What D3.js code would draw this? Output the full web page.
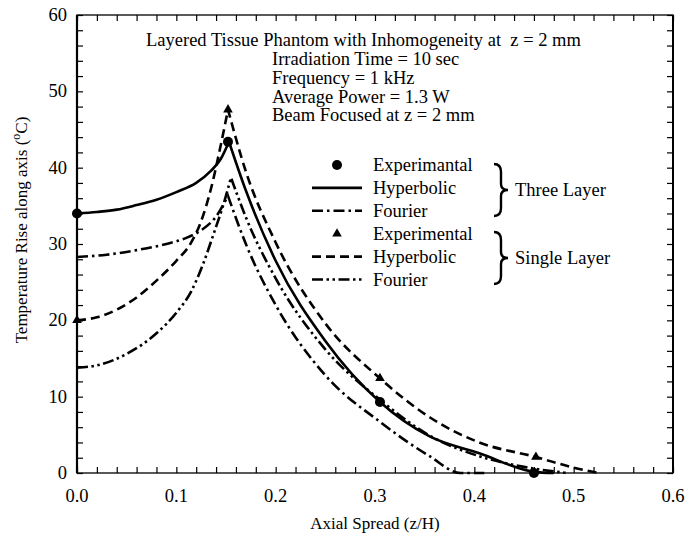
<!DOCTYPE html>
<html>
<head>
<meta charset="utf-8">
<script src="https://cdn.jsdelivr.net/npm/d3@7"></script>
<style>
body { margin: 0; background: #fff; }
svg text { font-family: "Liberation Serif", "Times New Roman", serif; fill: #000; }
</style>
</head>
<body>
<div id="chart"></div>
<script>
// x ticks and y ticks
var xTickLabels = [0, 0.1, 0.2, 0.3, 0.4, 0.5, 0.6];
var yTickLabels = [0, 10, 20, 30, 40, 50, 60];

// three layer
var threeLayerExp = [[0, 34.0], [0.152, 43.4], [0.305, 9.3], [0.46, 0]];
var threeLayerHyp = [[0, 34.0], [0.02, 34.2], [0.04, 34.5], [0.06, 35.1], [0.08, 35.8], [0.10, 36.8], [0.12, 38.0], [0.135, 39.6], [0.145, 41.2], [0.153, 43.4],
	[0.17, 37.0], [0.2, 27.8], [0.25, 17.3], [0.305, 9.3], [0.355, 4.8], [0.405, 2.6], [0.46, 0.15], [0.48, 0]];
var threeLayerFou = [[0, 28.3], [0.03, 28.6], [0.06, 29.2], [0.09, 30.0], [0.11, 30.8], [0.125, 31.8], [0.14, 33.6], [0.152, 36.3],
	[0.17, 30.0], [0.2, 22.0], [0.25, 12.8], [0.305, 6.7], [0.355, 2.2], [0.386, 0], [0.41, 0]];

// single layer
var singleLayerExp = [[0, 20.0], [0.152, 47.6], [0.305, 12.4], [0.462, 2.1]];
var singleLayerHyp = [[0, 20.0], [0.02, 20.4], [0.04, 21.4], [0.06, 23.0], [0.08, 25.2], [0.10, 27.8], [0.115, 30.2], [0.125, 33.0], [0.135, 37.3], [0.144, 42.5], [0.152, 47.6],
	[0.17, 39.5], [0.2, 30.2], [0.25, 19.6], [0.305, 12.4], [0.355, 7.3], [0.405, 4.0], [0.462, 2.1], [0.5, 0.7], [0.525, 0]];
var singleLayerFou = [[0, 13.8], [0.02, 14.1], [0.05, 15.6], [0.08, 18.3], [0.10, 21.0], [0.115, 23.8], [0.127, 27.4], [0.138, 31.5], [0.147, 35.0], [0.155, 38.7],
	[0.17, 33.5], [0.2, 25.5], [0.25, 16.2], [0.305, 9.6], [0.355, 4.9], [0.405, 2.2], [0.45, 0.8], [0.493, 0]];

var infoLines = ["Irradiation Time = 10 sec", "Frequency = 1 kHz", "Average Power = 1.3 W", "Beam Focused at z = 2 mm"];

var W = 687, H = 536;
var pL = 77, pR = 673, pT = 15, pB = 473;
var fs = 18.5;

var svg = d3.select("#chart").append("svg").attr("width", W).attr("height", H);

var x = d3.scaleLinear().domain([0, 0.6]).range([pL, pR]);
var y = d3.scaleLinear().domain([0, 60]).range([pB, pT]);

// minor ticks, all four sides, pointing in
var xMinor = d3.range(0, 0.6001, 0.02);
var yMinor = d3.range(0, 60.001, 2);
svg.append("g").attr("transform", "translate(0," + pB + ")")
	.call(d3.axisBottom(x).tickValues(xMinor).tickSize(-6).tickFormat(""));
svg.append("g").attr("transform", "translate(0," + pT + ")")
	.call(d3.axisTop(x).tickValues(xMinor).tickSize(-6).tickFormat(""));
svg.append("g").attr("transform", "translate(" + pL + ",0)")
	.call(d3.axisLeft(y).tickValues(yMinor).tickSize(-6).tickFormat(""));
svg.append("g").attr("transform", "translate(" + pR + ",0)")
	.call(d3.axisRight(y).tickValues(yMinor).tickSize(-6).tickFormat(""));
svg.selectAll(".domain").remove();
svg.selectAll(".tick line").attr("stroke", "#000").attr("stroke-width", 1.2);

// frame
svg.append("rect").attr("x", pL).attr("y", pT).attr("width", pR - pL).attr("height", pB - pT)
	.attr("fill", "none").attr("stroke", "#000").attr("stroke-width", 1.3);
svg.append("line").attr("x1", pL).attr("x2", pL).attr("y1", pT).attr("y2", pB).attr("stroke", "#000").attr("stroke-width", 2.2);
svg.append("line").attr("x1", pR).attr("x2", pR).attr("y1", pT).attr("y2", pB).attr("stroke", "#000").attr("stroke-width", 2);

// tick labels
svg.append("g").selectAll("text").data(xTickLabels).enter().append("text")
	.attr("x", function(d){return x(d);}).attr("y", 502)
	.attr("text-anchor", "middle").style("font-size", fs + "px")
	.text(function(d){return d3.format(".1f")(d);});
svg.append("g").selectAll("text").data(yTickLabels).enter().append("text")
	.attr("x", 67).attr("y", function(d){return y(d) + 6;})
	.attr("text-anchor", "end").style("font-size", fs + "px")
	.text(function(d){return d;});

// axis titles
svg.append("text").attr("x", 375).attr("y", 529).attr("text-anchor", "middle")
	.style("font-size", "17px").text("Axial Spread (z/H)");
var yt = svg.append("text").attr("transform", "translate(27,230) rotate(-90)")
	.attr("text-anchor", "middle").style("font-size", "17px");
yt.append("tspan").text("Temperature Rise along axis (");
yt.append("tspan").attr("dy", -7).style("font-size", "12px").text("o");
yt.append("tspan").attr("dy", 7).text("C)");

// curves: rising part and falling part joined in one path, split at the peak
var line = d3.line().x(function(d){return x(d[0]);}).y(function(d){return y(d[1]);}).curve(d3.curveMonotoneX);
function peakPath(data){
	var k = d3.maxIndex(data, function(d){return d[1];});
	return line(data.slice(0, k + 1)) + line(data.slice(k)).replace(/^M/, "L");
}

var series = [
	{data: threeLayerHyp, dash: null},
	{data: threeLayerFou, dash: "11,4,2.5,4"},
	{data: singleLayerHyp, dash: "9,5"},
	{data: singleLayerFou, dash: "11,3.5,2.5,3.5,2.5,3.5"}
];
svg.append("g").selectAll("path").data(series).enter().append("path")
	.attr("d", function(d){return peakPath(d.data);})
	.attr("fill", "none").attr("stroke", "#000").attr("stroke-width", 2.6)
	.attr("stroke-dasharray", function(d){return d.dash;});

// experimental points
svg.append("g").selectAll("circle").data(threeLayerExp).enter().append("circle")
	.attr("cx", function(d){return x(d[0]);}).attr("cy", function(d){return y(d[1]);})
	.attr("r", 5).attr("fill", "#000");
var tri = d3.symbol().type(d3.symbolTriangle).size(40);
svg.append("g").selectAll("path").data(singleLayerExp).enter().append("path")
	.attr("transform", function(d){return "translate(" + x(d[0]) + "," + y(d[1]) + ")";})
	.attr("d", tri).attr("fill", "#000");

// info text
svg.append("text").attr("x", 146).attr("y", 46).style("font-size", fs + "px").style("white-space", "pre")
	.text("Layered Tissue Phantom with Inhomogeneity at  z = 2 mm");
svg.append("g").selectAll("text").data(infoLines).enter().append("text")
	.attr("x", 272).attr("y", function(d, i){return 65 + i * 18.8;})
	.style("font-size", fs + "px").text(function(d){return d;});

// legend
var legRows = [
	{label: "Experimantal", kind: "circle"},
	{label: "Hyperbolic", kind: "line", dash: null},
	{label: "Fourier", kind: "line", dash: "11,4,2.5,4"},
	{label: "Experimental", kind: "tri"},
	{label: "Hyperbolic", kind: "line", dash: "9,5"},
	{label: "Fourier", kind: "line", dash: "11,3.5,2.5,3.5,2.5,3.5"}
];
var leg = svg.append("g");
legRows.forEach(function(r, i){
	var cy = 165 + i * 22.9;
	if (r.kind == "circle"){
		leg.append("circle").attr("cx", 337).attr("cy", cy).attr("r", 5).attr("fill", "#000");
	} else if (r.kind == "tri"){
		leg.append("path").attr("transform", "translate(337," + cy + ")").attr("d", tri).attr("fill", "#000");
	} else {
		leg.append("line").attr("x1", 312).attr("x2", 362).attr("y1", cy).attr("y2", cy)
			.attr("stroke", "#000").attr("stroke-width", 2.6).attr("stroke-dasharray", r.dash);
	}
	leg.append("text").attr("x", 373).attr("y", cy + 6).style("font-size", fs + "px").text(r.label);
});

function brace(x0, y1, y2){
	var ym = (y1 + y2) / 2;
	return "M" + x0 + "," + y1 + " Q" + (x0 + 7) + "," + y1 + " " + (x0 + 7) + "," + (y1 + 8) +
		" L" + (x0 + 7) + "," + (ym - 6) + " Q" + (x0 + 7) + "," + ym + " " + (x0 + 14) + "," + ym +
		" Q" + (x0 + 7) + "," + ym + " " + (x0 + 7) + "," + (ym + 6) +
		" L" + (x0 + 7) + "," + (y2 - 8) + " Q" + (x0 + 7) + "," + y2 + " " + x0 + "," + y2;
}
leg.append("path").attr("d", brace(494, 164, 216)).attr("fill", "none").attr("stroke", "#000").attr("stroke-width", 2.4);
leg.append("path").attr("d", brace(494, 232, 284)).attr("fill", "none").attr("stroke", "#000").attr("stroke-width", 2.4);
leg.append("text").attr("x", 515).attr("y", 196).style("font-size", fs + "px").text("Three Layer");
leg.append("text").attr("x", 515).attr("y", 264).style("font-size", fs + "px").text("Single Layer");
</script>
</body>
</html>
